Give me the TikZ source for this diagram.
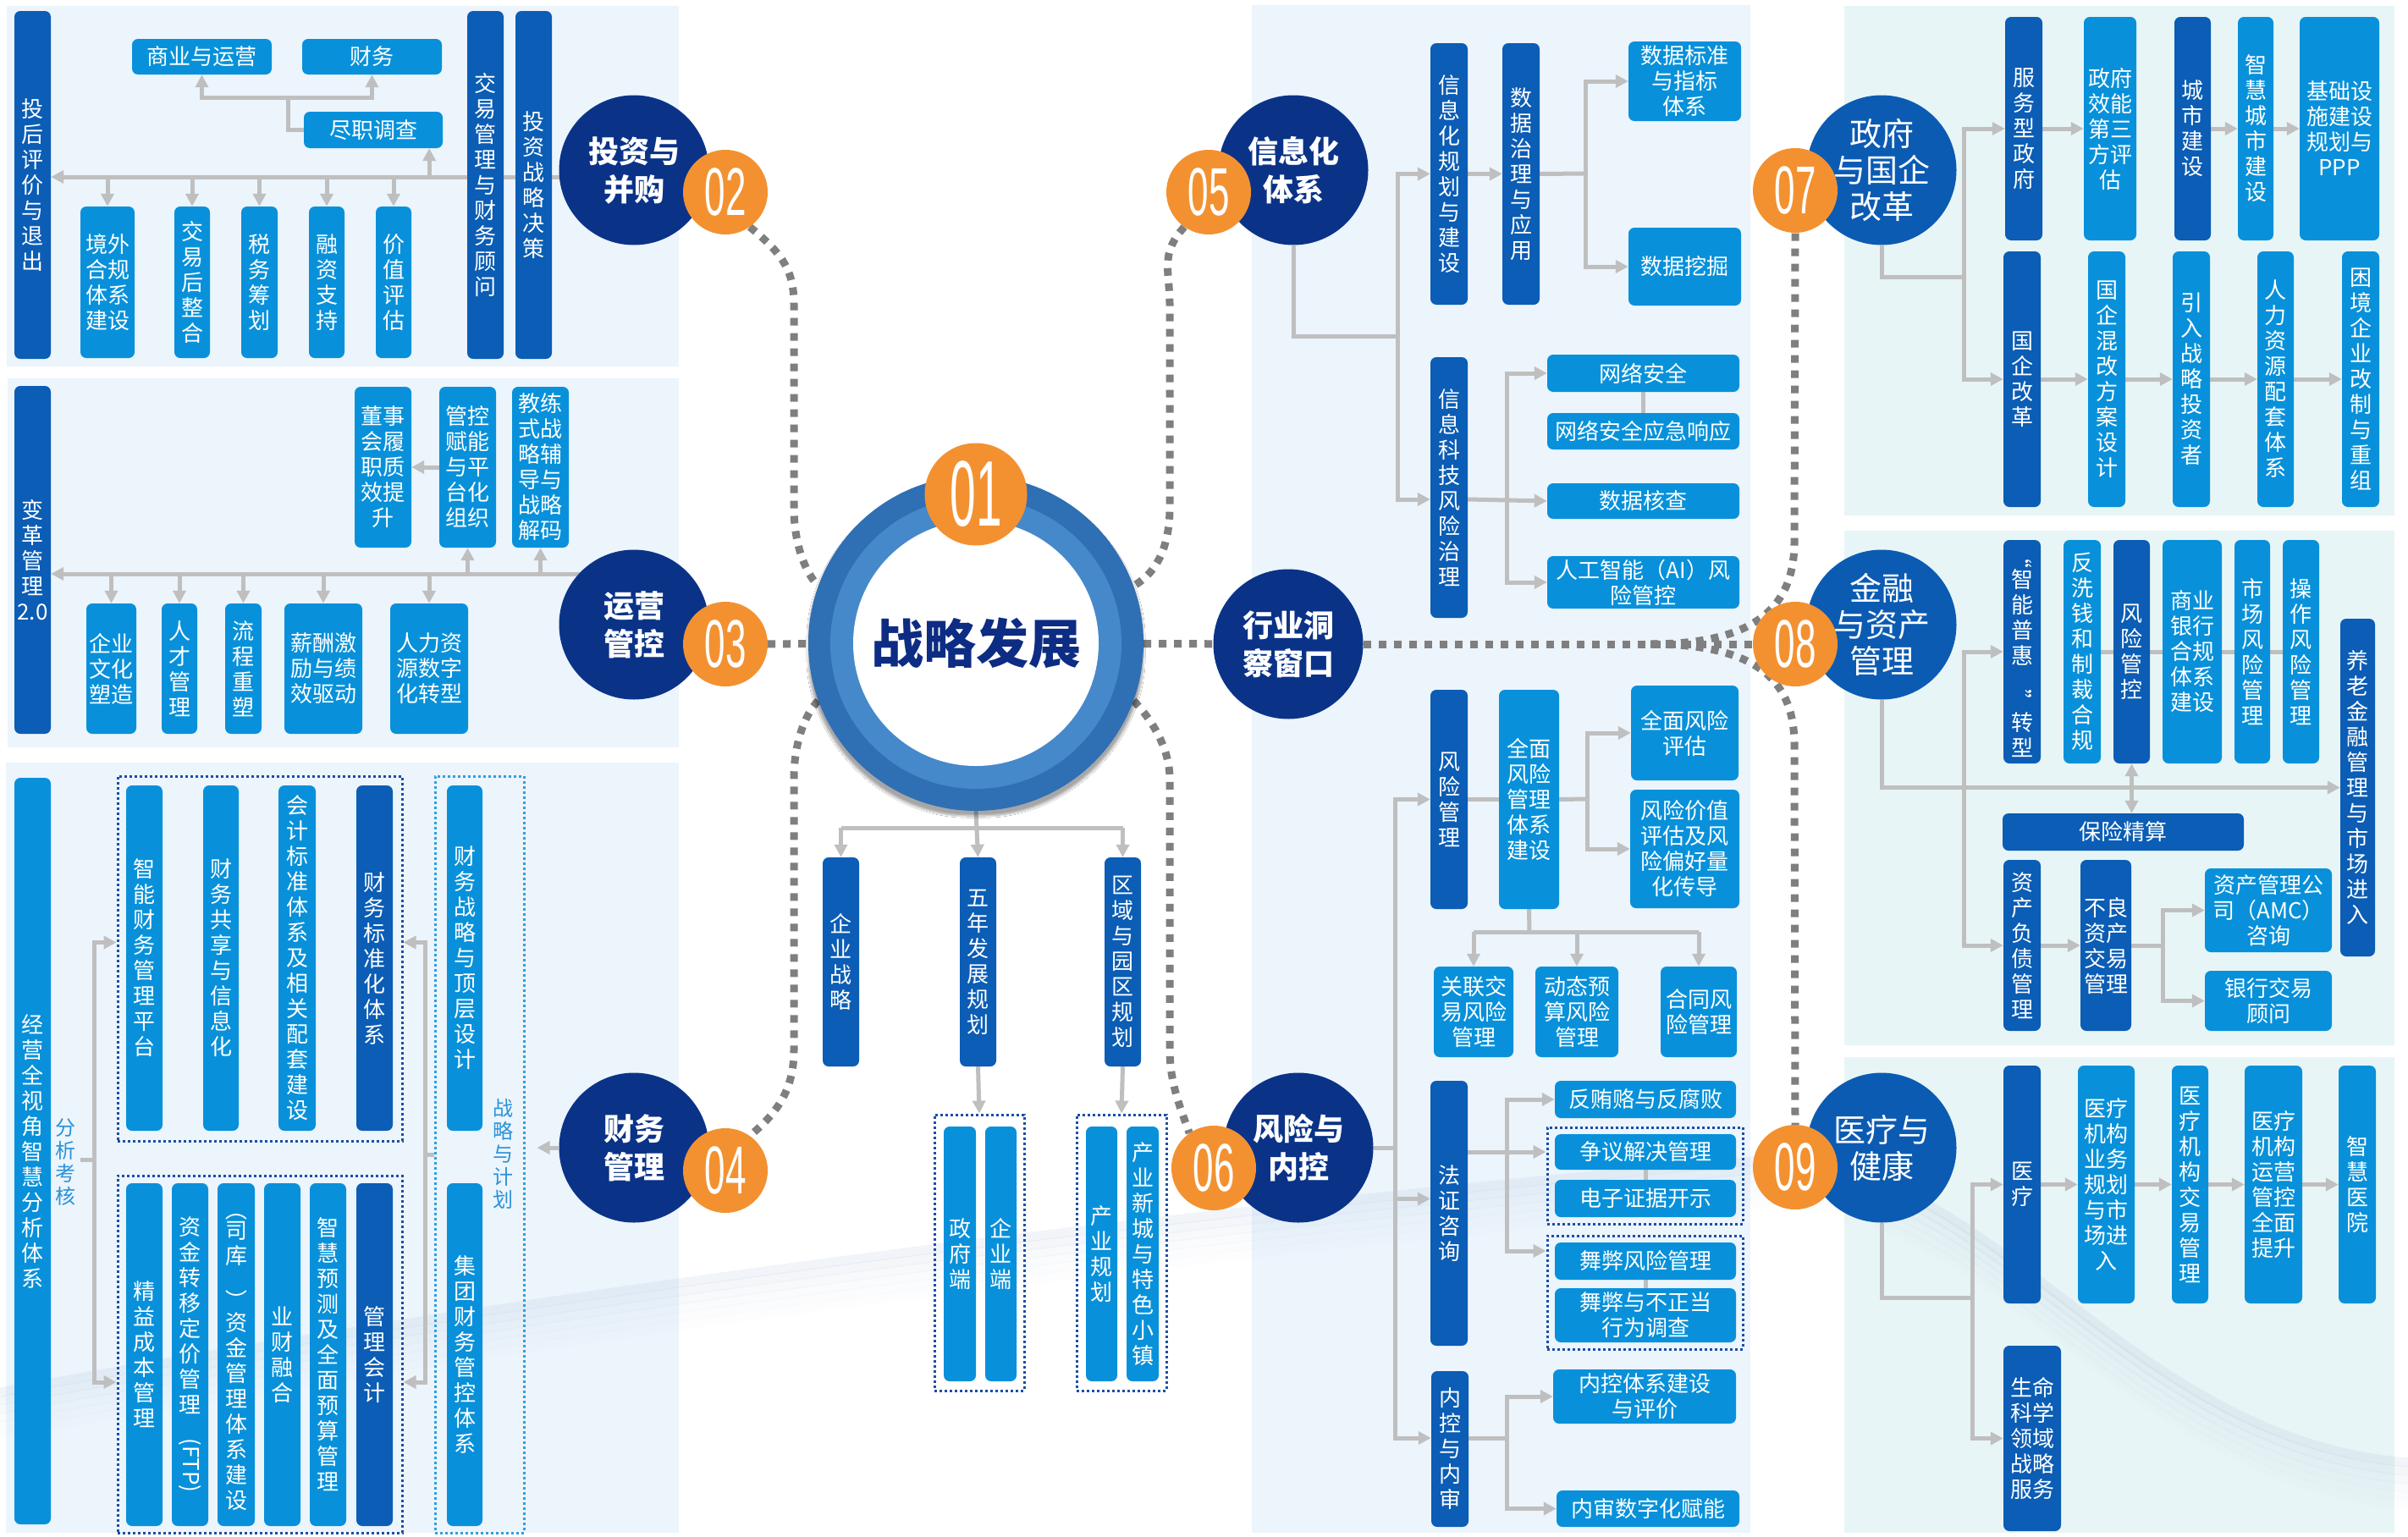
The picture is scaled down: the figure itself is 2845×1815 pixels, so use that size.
\documentclass[tikz,border=0pt]{standalone}
\usepackage{fontspec}
\setmainfont{Noto Sans CJK SC}
\newfontfamily\numfont{Liberation Sans}
\usetikzlibrary{arrows.meta,shadows.blur}
\pgfdeclarelayer{panel}\pgfdeclarelayer{bg}\pgfsetlayers{panel,bg,main}
\definecolor{dkbox}{HTML}{0B5DB5}
\definecolor{ltbox}{HTML}{0891DA}
\definecolor{navy}{HTML}{0A3388}
\definecolor{navyb}{HTML}{0B5BB3}
\definecolor{orng}{HTML}{F39131}
\definecolor{cgray}{HTML}{BFBFBF}
\definecolor{dgray}{HTML}{7F7F7F}
\definecolor{panL}{HTML}{ECF4FC}
\definecolor{panR}{HTML}{E8F5F6}
\definecolor{lbl}{HTML}{2A93D8}
\definecolor{grpdk}{HTML}{1B4FA5}
\definecolor{grplt}{HTML}{2FA0DE}
\definecolor{ringout}{HTML}{2F6FB4}
\definecolor{ringin}{HTML}{4589CA}
\definecolor{titlec}{HTML}{0D2C83}
\definecolor{swsh}{HTML}{A9BDD6}
\def\vtxt#1{\vtxtA#1\relax}
\def\vtxtA#1{#1\vtxtB}
\def\vtxtB#1{\ifx\relax#1\else\\#1\expandafter\vtxtB\fi}
\newcommand\mybx[7]{%
 \pgfmathsetmacro\bxw{#5-#3}%
 \pgfmathsetmacro\bxh{#6-#4}%
 \pgfmathsetmacro\bxx{(#3+#5)/2}%
 \pgfmathsetmacro\bxy{(#4+#6)/2}%
 \node[#1,minimum width=\bxw pt,minimum height=\bxh pt] (#2) at (\bxx,\bxy) {#7};}
\begin{document}
\begin{tikzpicture}[x=1pt,y=-1pt,
 bxbase/.style={rectangle, rounded corners=7pt, text=white, inner sep=0pt, align=center, font=\fontsize{26}{30}\selectfont},
 dk/.style={bxbase, fill=dkbox},
 lt/.style={bxbase, fill=ltbox},
 grp/.style={rectangle, draw=grpdk, line width=3pt, dash pattern=on 3pt off 3pt, inner sep=0pt},
 grpl/.style={grp, draw=grplt},
 conn/.style={draw=cgray, line width=5pt},
 arr/.style={conn, -{Triangle[length=15pt,width=15pt]}},
 arrb/.style={conn, {Triangle[length=15pt,width=15pt]}-{Triangle[length=15pt,width=15pt]}},
 dotl/.style={draw=dgray, line width=9pt, dash pattern=on 9pt off 9pt},
 topic/.style={circle, fill=navy, text=white, minimum size=177pt, inner sep=0pt, align=center, font=\fontsize{36}{45}\selectfont\bfseries},
 topicr/.style={topic, fill=navyb, font=\fontsize{38}{43}\selectfont},
 badge/.style={circle, fill=orng, text=white, minimum size=100pt, inner sep=0pt, font=\numfont\fontsize{80}{80}\selectfont},
 labl/.style={text=lbl, inner sep=0pt, align=center, font=\fontsize{24}{27}\selectfont}
]
\useasboundingbox (0,0) rectangle (2845,1815);

% ---------- Panel 1 : investment ----------
\mybx{dk}{p1exit}{17}{13}{60}{424}{\vtxt{投后评价与退出}}
\mybx{lt}{p1biz}{156}{46}{321}{88}{商业与运营}
\mybx{lt}{p1fin}{357}{46}{522}{88}{财务}
\mybx{lt}{p1dd}{359}{132}{523}{175}{尽职调查}
\mybx{dk}{p1deal}{552}{13}{595}{424}{\vtxt{交易管理与财务顾问}}
\mybx{dk}{p1strat}{609}{13}{652}{424}{\vtxt{投资战略决策}}
\mybx{lt}{p1b1}{95}{244}{159}{423}{境外\\合规\\体系\\建设}
\mybx{lt}{p1b2}{206}{244}{248}{423}{\vtxt{交易后整合}}
\mybx{lt}{p1b3}{285}{244}{328}{423}{\vtxt{税务筹划}}
\mybx{lt}{p1b4}{365}{244}{407}{423}{\vtxt{融资支持}}
\mybx{lt}{p1b5}{444}{244}{486}{423}{\vtxt{价值评估}}

% ---------- Panel 2 : operations ----------
\mybx{dk}{p2chg}{17}{456}{60}{867}{变\\革\\管\\理\\2.0}
\mybx{lt}{p2d}{419}{457}{486}{647}{董事\\会履\\职质\\效提\\升}
\mybx{lt}{p2m}{519}{457}{586}{647}{管控\\赋能\\与平\\台化\\组织}
\mybx{lt}{p2c}{605}{457}{672}{647}{教练\\式战\\略辅\\导与\\战略\\解码}
\mybx{lt}{p2b1}{102}{713}{161}{867}{企业\\文化\\塑造}
\mybx{lt}{p2b2}{191}{713}{233}{867}{\vtxt{人才管理}}
\mybx{lt}{p2b3}{266}{713}{309}{867}{\vtxt{流程重塑}}
\mybx{lt}{p2b4}{336}{713}{428}{867}{薪酬激\\励与绩\\效驱动}
\mybx{lt}{p2b5}{461}{713}{553}{867}{人力资\\源数字\\化转型}

% ---------- Panel 3 : finance ----------
\mybx{lt}{p3all}{17}{919}{60}{1801}{\vtxt{经营全视角智慧分析体系}}
\mybx{grp}{g1}{139}{917}{475}{1348}{}
\mybx{lt}{g1a}{149}{928}{192}{1336}{\vtxt{智能财务管理平台}}
\mybx{lt}{g1b}{240}{928}{282}{1336}{\vtxt{财务共享与信息化}}
\mybx{lt}{g1c}{329}{928}{373}{1336}{\vtxt{会计标准体系及相关配套建设}}
\mybx{dk}{g1d}{421}{928}{464}{1336}{\vtxt{财务标准化体系}}
\mybx{grp}{g2}{139}{1389}{475}{1811}{}
\mybx{lt}{g2a}{149}{1398}{192}{1803}{\vtxt{精益成本管理}}
\mybx{lt}{g2b}{203}{1398}{246}{1803}{资\\金\\转\\移\\定\\价\\管\\理\\\rotatebox{-90}{(FTP)}}
\mybx{lt}{g2c}{257}{1398}{301}{1803}{\rotatebox{-90}{（}\\司\\库\\\rotatebox{-90}{）}\\资\\金\\管\\理\\体\\系\\建\\设}
\mybx{lt}{g2d}{312}{1398}{355}{1803}{\vtxt{业财融合}}
\mybx{lt}{g2e}{366}{1398}{409}{1803}{\vtxt{智慧预测及全面预算管理}}
\mybx{dk}{g2f}{421}{1398}{464}{1803}{\vtxt{管理会计}}
\mybx{grpl}{g3}{514}{917}{619}{1811}{}
\mybx{lt}{g3a}{528}{928}{570}{1336}{\vtxt{财务战略与顶层设计}}
\mybx{lt}{g3b}{528}{1398}{570}{1803}{\vtxt{集团财务管控体系}}
\node[labl] (lab1) at (77,1373) {\vtxt{分析考核}};
\node[labl] (lab2) at (594,1363) {\vtxt{战略与计划}};

% ---------- Center : strategy ----------
\node[circle, fill=ringout, minimum size=396pt, inner sep=0pt,
  blur shadow={shadow blur steps=12, shadow xshift=0pt, shadow yshift=-6pt, shadow blur extra rounding=10pt, shadow opacity=35}] (ring) at (1153,760) {};
\fill[ringin] (ring.center) circle (172pt);
\fill[white] (ring.center) circle (145pt);
\node[text=titlec, font=\fontsize{62}{62}\selectfont\bfseries] (title) at (ring.center) {战略发展};
\node[badge, minimum size=121pt, font=\numfont\fontsize{110}{110}\selectfont] (o01) at (1153,584) {\scalebox{0.5}[1]{01}};
\mybx{dk}{sb1}{972}{1013}{1015}{1260}{\vtxt{企业战略}}
\mybx{dk}{sb2}{1134}{1013}{1177}{1260}{\vtxt{五年发展规划}}
\mybx{dk}{sb3}{1305}{1013}{1348}{1260}{\vtxt{区域与园区规划}}
\mybx{grp}{gA}{1104}{1317}{1210}{1643}{}
\mybx{lt}{sA1}{1115}{1331}{1153}{1632}{\vtxt{政府端}}
\mybx{lt}{sA2}{1164}{1331}{1201}{1632}{\vtxt{企业端}}
\mybx{grp}{gB}{1272}{1317}{1378}{1643}{}
\mybx{lt}{sB1}{1283}{1331}{1320}{1632}{\vtxt{产业规划}}
\mybx{lt}{sB2}{1331}{1331}{1369}{1632}{\vtxt{产业新城与特色小镇}}

% ---------- Info panel ----------
\mybx{dk}{i1}{1690}{51}{1734}{360}{\vtxt{信息化规划与建设}}
\mybx{dk}{i2}{1775}{51}{1819}{360}{\vtxt{数据治理与应用}}
\mybx{lt}{i3}{1924}{49}{2057}{143}{数据标准\\与指标\\体系}
\mybx{lt}{i4}{1924}{269}{2057}{361}{数据挖掘}
\mybx{dk}{i5}{1690}{422}{1734}{730}{\vtxt{信息科技风险治理}}
\mybx{lt}{i6}{1828}{419}{2055}{463}{网络安全}
\mybx{lt}{i7}{1828}{488}{2055}{531}{网络安全应急响应}
\mybx{lt}{i8}{1828}{571}{2055}{613}{数据核查}
\mybx{lt}{i9}{1828}{657}{2055}{719}{人工智能（AI）风\\险管控}

% ---------- Risk panel ----------
\mybx{dk}{r1}{1690}{815}{1734}{1074}{\vtxt{风险管理}}
\mybx{lt}{r2}{1771}{815}{1842}{1074}{全面\\风险\\管理\\体系\\建设}
\mybx{lt}{r3}{1927}{810}{2054}{922}{全面风险\\评估}
\mybx{lt}{r4}{1926}{933}{2055}{1073}{风险价值\\评估及风\\险偏好量\\化传导}
\mybx{lt}{r5}{1694}{1142}{1788}{1249}{关联交\\易风险\\管理}
\mybx{lt}{r6}{1814}{1142}{1912}{1249}{动态预\\算风险\\管理}
\mybx{lt}{r7}{1962}{1142}{2052}{1249}{合同风\\险管理}
\mybx{dk}{r8}{1690}{1277}{1734}{1590}{\vtxt{法证咨询}}
\mybx{lt}{r9}{1837}{1277}{2051}{1321}{反贿赂与反腐败}
\mybx{grp}{gC}{1828}{1332}{2059}{1446}{}
\mybx{lt}{r10}{1837}{1340}{2051}{1382}{争议解决管理}
\mybx{lt}{r11}{1837}{1394}{2051}{1438}{电子证据开示}
\mybx{grp}{gD}{1828}{1460}{2059}{1594}{}
\mybx{lt}{r12}{1837}{1468}{2051}{1512}{舞弊风险管理}
\mybx{lt}{r13}{1837}{1522}{2051}{1586}{舞弊与不正当\\行为调查}
\mybx{dk}{r14}{1691}{1620}{1735}{1804}{\vtxt{内控与内审}}
\mybx{lt}{r15}{1835}{1618}{2051}{1682}{内控体系建设\\与评价}
\mybx{lt}{r16}{1839}{1761}{2055}{1804}{内审数字化赋能}

% ---------- Panel 07 ----------
\mybx{dk}{a1}{2369}{20}{2413}{284}{\vtxt{服务型政府}}
\mybx{lt}{a2}{2462}{20}{2524}{284}{政府\\效能\\第三\\方评\\估}
\mybx{dk}{a3}{2569}{20}{2612}{284}{\vtxt{城市建设}}
\mybx{lt}{a4}{2644}{20}{2686}{284}{\vtxt{智慧城市建设}}
\mybx{lt}{a5}{2717}{20}{2811}{284}{基础设\\施建设\\规划与\\PPP}
\mybx{dk}{a6}{2367}{297}{2411}{599}{\vtxt{国企改革}}
\mybx{lt}{a7}{2467}{297}{2511}{599}{\vtxt{国企混改方案设计}}
\mybx{lt}{a8}{2567}{297}{2611}{599}{\vtxt{引入战略投资者}}
\mybx{lt}{a9}{2667}{297}{2710}{599}{\vtxt{人力资源配套体系}}
\mybx{lt}{a10}{2767}{297}{2811}{599}{\vtxt{困境企业改制与重组}}

% ---------- Panel 08 ----------
\mybx{dk}{b1}{2367}{638}{2411}{902}{\rotatebox{-90}{“}\\智\\能\\普\\惠\\\rotatebox{-90}{”}\\转\\型}
\mybx{lt}{b2}{2438}{638}{2482}{902}{\vtxt{反洗钱和制裁合规}}
\mybx{dk}{b3}{2497}{638}{2540}{902}{\vtxt{风险管控}}
\mybx{lt}{b4}{2555}{638}{2625}{902}{商业\\银行\\合规\\体系\\建设}
\mybx{lt}{b5}{2640}{638}{2682}{902}{\vtxt{市场风险管理}}
\mybx{lt}{b6}{2697}{638}{2740}{902}{\vtxt{操作风险管理}}
\mybx{dk}{b7}{2765}{731}{2806}{1130}{\vtxt{养老金融管理与市场进入}}
\mybx{dk}{b8}{2366}{961}{2651}{1005}{保险精算}
\mybx{dk}{b9}{2367}{1016}{2411}{1218}{\vtxt{资产负债管理}}
\mybx{dk}{b10}{2458}{1016}{2518}{1218}{不良\\资产\\交易\\管理}
\mybx{lt}{b11}{2605}{1026}{2755}{1125}{资产管理公\\司（AMC）\\咨询}
\mybx{lt}{b12}{2605}{1147}{2755}{1218}{银行交易\\顾问}

% ---------- Panel 09 ----------
\mybx{dk}{d1}{2367}{1259}{2411}{1540}{\vtxt{医疗}}
\mybx{lt}{d2}{2455}{1259}{2522}{1540}{医疗\\机构\\业务\\规划\\与市\\场进\\入}
\mybx{lt}{d3}{2566}{1259}{2609}{1540}{\vtxt{医疗机构交易管理}}
\mybx{lt}{d4}{2652}{1259}{2720}{1540}{医疗\\机构\\运营\\管控\\全面\\提升}
\mybx{lt}{d5}{2763}{1259}{2807}{1540}{\vtxt{智慧医院}}
\mybx{dk}{d6}{2367}{1590}{2435}{1809}{生命\\科学\\领域\\战略\\服务}

% ---------- Topic circles ----------
\node[topic] (c02) at (749,201) {投资与\\并购};
\node[topic] (c03) at (749,738) {运营\\管控};
\node[topic] (c04) at (749,1356) {财务\\管理};
\node[topic] (c05) at (1528,201) {信息化\\体系};
\node[topic] (ind) at (1522,761) {行业洞\\察窗口};
\node[topic] (c06) at (1534,1356) {风险与\\内控};
\node[topicr] (c07) at (2223,201) {政府\\与国企\\改革};
\node[topicr] (c08) at (2223,738) {金融\\与资产\\管理};
\node[topicr] (c09) at (2223,1356) {医疗与\\健康};
\node[badge] (o02) at (857,227) {\scalebox{0.55}[1]{02}};
\node[badge] (o03) at (857,761) {\scalebox{0.55}[1]{03}};
\node[badge] (o04) at (857,1383) {\scalebox{0.55}[1]{04}};
\node[badge] (o05) at (1428,227) {\scalebox{0.55}[1]{05}};
\node[badge] (o06) at (1434,1380) {\scalebox{0.55}[1]{06}};
\node[badge] (o07) at (2121,225) {\scalebox{0.55}[1]{07}};
\node[badge] (o08) at (2121,761) {\scalebox{0.55}[1]{08}};
\node[badge] (o09) at (2121,1379) {\scalebox{0.55}[1]{09}};

% ---------- Backgrounds ----------
\begin{pgfonlayer}{panel}
\fill[white] (0,0) rectangle (2845,1815);
\fill[panL] (8,7) rectangle (802,433);
\fill[panL] (9,447) rectangle (802,883);
\fill[panL] (7,901) rectangle (802,1811);
\fill[panL] (1479,6) rectangle (2068,1811);
\fill[panR] (2179,7) rectangle (2829,609);
\fill[panR] (2179,627) rectangle (2829,1235);
\fill[panR] (2179,1249) rectangle (2829,1811);
\foreach \o/\op in {0/0.16,10/0.12,20/0.09,30/0.06,40/0.04,50/0.02}{
 \draw[swsh, line width=11pt, opacity=\op, yshift=-\o pt]
  (0,1645) .. controls (900,1480) and (1750,1400) .. (2070,1372)
  .. controls (2350,1350) and (2500,1700) .. (2845,1728);
}
\end{pgfonlayer}

% ---------- Connectors ----------
\begin{pgfonlayer}{bg}
% dotted main links
\draw[dotl] (o02.-55) .. controls (925,300) and (938,320) .. (938,360) -- (938,600) .. controls (938,640) and (950,675) .. (ring.160);
\draw[dotl] (o05.-125) .. controls (1370,300) and (1382,320) .. (1382,360) -- (1382,600) .. controls (1382,640) and (1370,675) .. (ring.20);
\draw[dotl] (ring.200) .. controls (950,845) and (938,880) .. (938,920) -- (938,1240) .. controls (938,1280) and (925,1310) .. (o04.55);
\draw[dotl] (ring.-20) .. controls (1356,845) and (1382,880) .. (1382,920) -- (1382,1240) .. controls (1382,1280) and (1395,1310) .. (o06.125);
\draw[dotl] (o03) -- (ring);
\draw[dotl] (ring) -- (ind);
\draw[dotl] (ind) -- (o08);
\coordinate (jr) at (1950,761);
\draw[dotl] (jr) .. controls (2070,761) and (2120,720) .. (2120,640) -- (o07.south);
\draw[dotl] (jr) .. controls (2070,761) and (2120,800) .. (2120,880) -- (o09.north);

% panel 1
\coordinate (p1h) at (690,209);
\draw[arr] (p1h) -- (p1exit.east|-p1h);
\foreach \b in {p1b1,p1b2,p1b3,p1b4,p1b5}{\draw[arr] (\b.north|-p1h) -- (\b.north);}
\draw[arr] ([xshift=-16pt]p1dd.south east|-p1h) -- ([xshift=-16pt]p1dd.south east);
\coordinate (p1k) at (340,115);
\draw[conn] (p1dd.west) -| (p1k);
\draw[arr] (p1k) -| (p1biz.south);
\draw[arr] (p1k) -| (p1fin.south);

% panel 2
\coordinate (p2h) at (690,678);
\draw[arr] (p2h) -- (p2chg.east|-p2h);
\foreach \b in {p2m,p2c}{\draw[arr] (\b.south|-p2h) -- (\b.south);}
\foreach \b in {p2b1,p2b2,p2b3,p2b4,p2b5}{\draw[arr] (\b.north|-p2h) -- (\b.north);}
\draw[arr] (p2m.west) -- (p2d.east);

% panel 3
\coordinate (p3l) at (111,1370);
\draw[conn] ([xshift=6pt]lab1.east|-p3l) -- (p3l);
\draw[arr] (p3l) |- ([yshift=19pt]g1.west);
\draw[arr] (p3l) |- ([yshift=-33pt]g2.west);
\coordinate (p3r) at (502,1364);
\draw[conn] (g3.west) -- (p3r);
\draw[arr] (p3r) |- ([yshift=19pt]g1.east);
\draw[arr] (p3r) |- ([yshift=-33pt]g2.east);
\draw[arr] (c04.west) -- ([xshift=14pt]g3.east|-c04.west);

% center
\coordinate (sj) at (1153,978);
\draw[conn] (sb1.north|-sj) -- (sb3.north|-sj);
\draw[arr] (sb1.north|-sj) -- (sb1.north);
\draw[arr] (sb3.north|-sj) -- (sb3.north);
\draw[arr] (ring.south) -- (sb2.north);
\draw[arr] (sb2.south) -- (gA.north);
\draw[arr] (sb3.south) -- (gB.north);

% info
\coordinate (ij) at (1651,397);
\draw[conn] (c05.south) |- (ij);
\draw[arr] (ij) |- (i1.west);
\draw[arr] (ij) |- ([yshift=-14pt]i5.west);
\draw[arr] (i1.east) -- (i2.west);
\coordinate (ik) at (1873,205);
\draw[conn] (i2.east) -- (ik);
\draw[arr] (ik) |- (i3.west);
\draw[arr] (ik) |- (i4.west);
\coordinate (il) at (1780,590);
\draw[arr] ([yshift=-14pt]i5.east) -- (i8.west);
\draw[arr] (il) |- (i6.west);
\draw[arr] (il) |- (i9.west);
\draw[conn] (i6.south) -- (i7.north);

% risk
\coordinate (rj) at (1648,1356);
\draw[conn] (c06.east) -- (rj);
\draw[arr] (rj) |- (r1.west);
\draw[arr] (rj) |- ([yshift=17pt]r8.west);
\draw[arr] (rj) |- ([yshift=13pt]r14.west);
\draw[conn] (r1.east) -- (r2.west);
\coordinate (rk) at (1875,944);
\draw[conn] (r2.east) -- (rk);
\draw[arr] (rk) |- (r3.west);
\draw[arr] (rk) |- (r4.west);
\coordinate (rm) at (1807,1101);
\draw[conn] (r2.south) -- (rm);
\draw[conn] (r5.north|-rm) -- (r7.north|-rm);
\foreach \b in {r5,r6,r7}{\draw[arr] (\b.north|-rm) -- (\b.north);}
\coordinate (rn) at (1780,1361);
\draw[arr] (r8.east|-rn) -- (gC.west|-rn);
\draw[arr] (rn) |- (r9.west);
\draw[arr] (rn) |- ([yshift=49pt]gD.west);
\draw[conn] (r10.south) -- (r11.north);
\draw[conn] (r12.south) -- (r13.north);
\coordinate (ro) at (1780,1699);
\draw[conn] ([yshift=13pt]r14.east) -- (ro);
\draw[arr] (ro) |- (r15.west);
\draw[arr] (ro) |- (r16.west);

% panel 07
\coordinate (aj) at (2320,327);
\draw[conn] (c07.south) |- (aj);
\draw[arr] (aj) |- (a1.west);
\draw[arr] (aj) |- (a6.west);
\draw[arr] (a1.east) -- (a2.west);
\draw[arr] (a3.east) -- (a4.west);
\draw[arr] (a4.east) -- (a5.west);
\draw[arr] (a6.east) -- (a7.west);
\draw[arr] (a7.east) -- (a8.west);
\draw[arr] (a8.east) -- (a9.west);
\draw[arr] (a9.east) -- (a10.west);

% panel 08
\draw[arr] (c08.south) |- (b7.west);
\coordinate (bk) at (2320,930);
\draw[arr] (bk) |- (b1.west);
\draw[arr] (bk) |- (b9.west);
\draw[conn] (b2.east) -- (b6.west);
\draw[arrb] (b3.south) -- (b3.south|-b8.north);
\draw[arr] (b9.east) -- (b10.west);
\coordinate (bm) at (2555,1117);
\draw[conn] (b10.east) -- (bm);
\draw[arr] (bm) |- (b11.west);
\draw[arr] (bm) |- (b12.west);

% panel 09
\coordinate (dj) at (2330,1533);
\draw[conn] (c09.south) |- (dj);
\draw[arr] (dj) |- (d1.west);
\draw[arr] (dj) |- (d6.west);
\draw[arr] (d1.east) -- (d2.west);
\draw[arr] (d2.east) -- (d3.west);
\draw[arr] (d3.east) -- (d4.west);
\draw[arr] (d4.east) -- (d5.west);
\end{pgfonlayer}
\end{tikzpicture}
\end{document}
